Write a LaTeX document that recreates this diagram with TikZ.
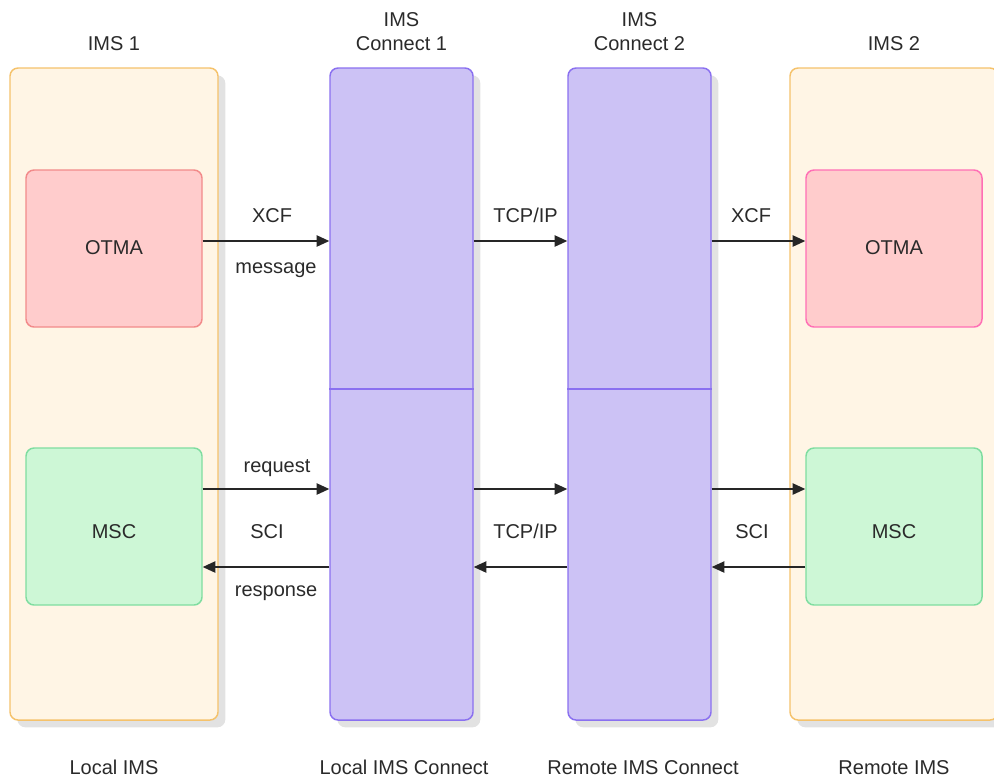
\documentclass[tikz,border=0pt]{standalone}
\usepackage{fontspec}
\setmainfont{Liberation Sans}
\usetikzlibrary{arrows.meta,shadows}
\definecolor{contfill}{HTML}{FFF5E5}
\definecolor{contdraw}{HTML}{F5C26B}
\definecolor{confill}{HTML}{CCC2F5}
\definecolor{condraw}{HTML}{8A70F0}
\definecolor{otmafill}{HTML}{FFCCCC}
\definecolor{otmadrawA}{HTML}{F28A8A}
\definecolor{otmadrawB}{HTML}{FF6FB5}
\definecolor{mscfill}{HTML}{CDF7D6}
\definecolor{mscdraw}{HTML}{7FDDA0}
\definecolor{txt}{HTML}{2A2A2A}
\definecolor{shad}{HTML}{E2E2E2}
\tikzset{
  px/.style={x=0.75pt,y=-0.75pt},
  boxbase/.style={rectangle,rounded corners=6pt,line width=1.1pt,inner sep=0pt,
     font=\fontsize{15pt}{18pt}\selectfont,text=txt},
  shadowed/.style={drop shadow={shadow xshift=5.5pt,shadow yshift=-5.5pt,fill=shad,opacity=1}},
  container/.style={boxbase,shadowed,fill=contfill,draw=contdraw,minimum width=156pt,minimum height=489pt},
  connbox/.style={boxbase,shadowed,fill=confill,draw=condraw,minimum width=107.25pt,minimum height=489pt},
  innerbox/.style={boxbase,minimum width=132pt,minimum height=117.75pt},
  otmaA/.style={innerbox,fill=otmafill,draw=otmadrawA},
  otmaB/.style={innerbox,fill=otmafill,draw=otmadrawB},
  mscbox/.style={innerbox,fill=mscfill,draw=mscdraw},
  lbl/.style={anchor=base,inner sep=0pt,text=txt,font=\fontsize{15pt}{18pt}\selectfont,align=center},
  arr/.style={line width=1.1pt,draw=black!85,-{Triangle[length=9.5pt,width=8.5pt]}},
}
\begin{document}
\begin{tikzpicture}[px]
\useasboundingbox (0,0) rectangle (994,779);
% containers
\node[container] (ims1) at (114,394) {};
\node[container] (ims2) at (894,394) {};
\node[connbox] (con1) at (401.5,394) {};
\node[connbox] (con2) at (639.5,394) {};
\draw[line width=1.1pt,draw=condraw] (con1.west |- 0,389) -- (con1.east |- 0,389);
\draw[line width=1.1pt,draw=condraw] (con2.west |- 0,389) -- (con2.east |- 0,389);
% inner boxes
\node[otmaA] (otma1) at (114,248.5) {};
\node[mscbox] (msc1) at (114,526.5) {};
\node[otmaB] (otma2) at (894,248.5) {};
\node[mscbox] (msc2) at (894,526.5) {};
\node[lbl] (otma1t) at (114,254) {OTMA};
\node[lbl] (msc1t) at (114,538) {MSC};
\node[lbl] (otma2t) at (894,254) {OTMA};
\node[lbl] (msc2t) at (894,538) {MSC};
% titles
\node[lbl] (t1) at (114,50) {IMS 1};
\node[lbl] (t2a) at (401.5,26) {IMS};
\node[lbl] (t2b) at (401.5,50) {Connect 1};
\node[lbl] (t3a) at (639.5,26) {IMS};
\node[lbl] (t3b) at (639.5,50) {Connect 2};
\node[lbl] (t4) at (894,50) {IMS 2};
% bottom labels
\node[lbl] (b1) at (114,774) {Local IMS};
\node[lbl] (b2) at (404,774) {Local IMS Connect};
\node[lbl] (b3) at (643,774) {Remote IMS Connect};
\node[lbl] (b4) at (894,774) {Remote IMS};
% arrows
\draw[arr] (otma1.east |- 0,241) -- (con1.west |- 0,241);
\draw[arr] (con1.east |- 0,241) -- (con2.west |- 0,241);
\draw[arr] (con2.east |- 0,241) -- (otma2.west |- 0,241);
\draw[arr] (msc1.east |- 0,489) -- (con1.west |- 0,489);
\draw[arr] (con1.east |- 0,489) -- (con2.west |- 0,489);
\draw[arr] (con2.east |- 0,489) -- (msc2.west |- 0,489);
\draw[arr] (con1.west |- 0,567) -- (msc1.east |- 0,567);
\draw[arr] (con2.west |- 0,567) -- (con1.east |- 0,567);
\draw[arr] (msc2.west |- 0,567) -- (con2.east |- 0,567);
% arrow labels
\node[lbl] (l1) at (272,222) {XCF};
\node[lbl] (l2) at (276,273) {message};
\node[lbl] (l3) at (525.5,222) {TCP/IP};
\node[lbl] (l4) at (751,222) {XCF};
\node[lbl] (l5) at (277,472) {request};
\node[lbl] (l6) at (267,538) {SCI};
\node[lbl] (l7) at (276,596) {response};
\node[lbl] (l8) at (525.5,538) {TCP/IP};
\node[lbl] (l9) at (752,538) {SCI};
\end{tikzpicture}
\end{document}
